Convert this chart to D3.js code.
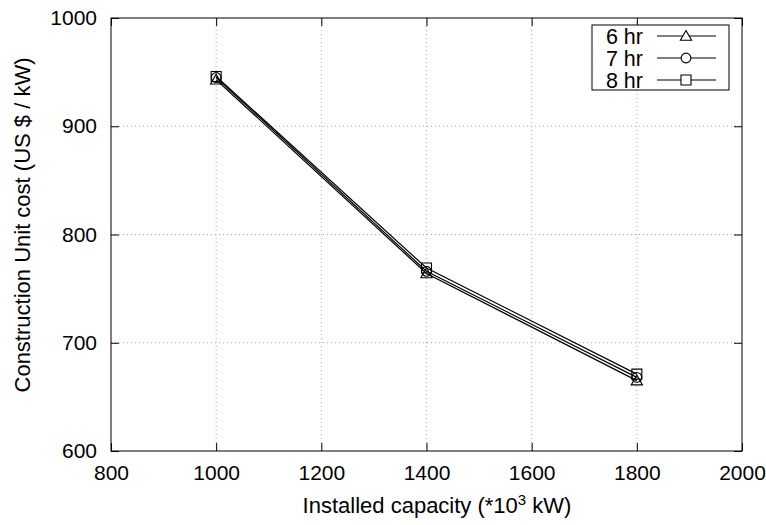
<!DOCTYPE html>
<html><head><meta charset="utf-8">
<script src="https://cdn.jsdelivr.net/npm/d3@7"></script>
<style>body{margin:0;background:#fff}svg{display:block}text{font-family:"Liberation Sans",Arial,sans-serif;fill:#000}</style>
</head><body><svg id="c" width="766" height="525"></svg>
<script>
const capacities = [1000, 1400, 1800];
const seriesNames = ["6 hr", "7 hr", "8 hr"];
const cost6 = [943, 764, 665];
const cost7 = [945, 766, 668];
const cost8 = [946, 769, 671];
const xTicks = [800, 1000, 1200, 1400, 1600, 1800, 2000];
const yTicks = [600, 700, 800, 900, 1000];
const markers = ["triangle", "circle", "square"];

const series = [cost6, cost7, cost8].map((v, i) => ({name: seriesNames[i], marker: markers[i], values: v.map((y, j) => ({x: capacities[j], y}))}));

const svg = d3.select("#c");
const L = 111, R = 742, T = 18, B = 451;
const x = d3.scaleLinear().domain([800, 2000]).range([L, R]);
const y = d3.scaleLinear().domain([600, 1000]).range([B, T]);

// grid
const g = svg.append("g");
g.selectAll(".gx").data(xTicks.slice(1, -1)).join("line")
  .attr("x1", d => x(d)).attr("x2", d => x(d)).attr("y1", T).attr("y2", B)
  .attr("stroke", "#aaa").attr("stroke-width", 1).attr("stroke-dasharray", "1,3");
g.selectAll(".gy").data(yTicks.slice(1, -1)).join("line")
  .attr("y1", d => y(d)).attr("y2", d => y(d)).attr("x1", L).attr("x2", R)
  .attr("stroke", "#aaa").attr("stroke-width", 1).attr("stroke-dasharray", "1,3");

// axes with inward ticks
const tickLen = 8;
const axB = d3.axisBottom(x).tickValues(xTicks).tickSize(-tickLen).tickPadding(14).tickFormat(d3.format("d"));
const axT = d3.axisTop(x).tickValues(xTicks).tickSize(-tickLen).tickFormat("");
const axL = d3.axisLeft(y).tickValues(yTicks).tickSize(-tickLen).tickPadding(14).tickFormat(d3.format("d"));
const axR = d3.axisRight(y).tickValues(yTicks).tickSize(-tickLen).tickFormat("");
function style(sel){ sel.select(".domain").remove(); sel.selectAll("line").attr("stroke","#000"); sel.selectAll("text").style("font-size","21px").attr("fill","#000").style("font-family","'Liberation Sans',Arial,sans-serif"); }
svg.append("g").attr("transform", `translate(0,${B})`).call(axB).call(style);
svg.append("g").attr("transform", `translate(0,${T})`).call(axT).call(style);
svg.append("g").attr("transform", `translate(${L},0)`).call(axL).call(style);
svg.append("g").attr("transform", `translate(${R},0)`).call(axR).call(style);
svg.append("rect").attr("x", L).attr("y", T).attr("width", R - L).attr("height", B - T)
  .attr("fill", "none").attr("stroke", "#000").attr("stroke-width", 1);

// lines
const line = d3.line().x(d => x(d.x)).y(d => y(d.y));
const sym = {triangle: d3.symbolTriangle, circle: d3.symbolCircle, square: d3.symbolSquare};
const symSize = {triangle: 55, circle: 75, square: 100};
series.forEach(s => {
  svg.append("path").datum(s.values).attr("d", line).attr("fill", "none").attr("stroke", "#000").attr("stroke-width", 1.2);
});
series.forEach(s => {
  svg.selectAll(null).data(s.values).join("path")
    .attr("transform", d => `translate(${x(d.x)},${y(d.y) + (s.marker === "triangle" ? 1 : 0)})`)
    .attr("d", d3.symbol().type(sym[s.marker]).size(symSize[s.marker]))
    .attr("fill", "none").attr("stroke", "#000").attr("stroke-width", 1.1);
});

// legend
const lg = svg.append("g");
lg.append("rect").attr("x", 592).attr("y", 25).attr("width", 137).attr("height", 65)
  .attr("fill", "#fff").attr("stroke", "#000").attr("stroke-width", 1);
series.forEach((s, i) => {
  const cy = 36 + i * 22;
  lg.append("text").attr("x", 643).attr("y", cy + 7.5).attr("text-anchor", "end").style("font-size", "21.5px").text(s.name);
  lg.append("line").attr("x1", 657).attr("x2", 716).attr("y1", cy).attr("y2", cy).attr("stroke", "#000").attr("stroke-width", 1.2);
  lg.append("path").attr("transform", `translate(686,${cy + (s.marker === "triangle" ? 1 : 0)})`)
    .attr("d", d3.symbol().type(sym[s.marker]).size(symSize[s.marker]))
    .attr("fill", "#fff").attr("stroke", "#000").attr("stroke-width", 1.1);
});

// axis titles
const xt = svg.append("text").attr("x", 437).attr("y", 513).attr("text-anchor", "middle").style("font-size", "22px");
xt.append("tspan").text("Installed capacity (*10");
xt.append("tspan").attr("dy", -8).style("font-size", "15px").text("3");
xt.append("tspan").attr("dy", 8).text(" kW)");
svg.append("text").attr("transform", `translate(30,225) rotate(-90)`).attr("text-anchor", "middle").style("font-size", "22px")
  .text("Construction Unit cost (US $ / kW)");
</script></body></html>
